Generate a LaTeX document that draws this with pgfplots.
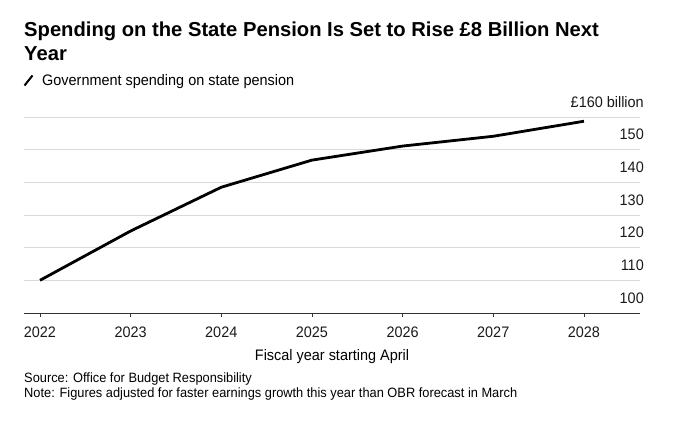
\documentclass[border=0pt]{standalone}
\usepackage{fontspec}
\setmainfont[FakeStretch=0.95]{Liberation Sans}
\newfontfamily\tfont{Liberation Sans}
\usepackage{pgfplots}
\pgfplotsset{compat=1.18}
\definecolor{gridgray}{HTML}{DADADA}
\definecolor{axgray}{HTML}{333333}
\newcommand{\bodyfont}{\fontsize{13.5}{16}\selectfont}
\newcommand{\bigfont}{\fontsize{15.2}{18}\selectfont}
\begin{document}
\begin{tikzpicture}
\path[use as bounding box] (0pt,0pt) rectangle (674pt,425pt);
\begin{axis}[
  at={(24pt,112pt)}, anchor=south west,
  scale only axis, width=616pt, height=196pt,
  xmin=2021.824, xmax=2028.618, ymin=100, ymax=160,
  axis x line*=bottom, axis y line*=right,
  y axis line style={draw=none},
  x axis line style={draw=axgray, line width=0.8pt},
  xtick={2022,...,2028},
  xticklabels={2022,2023,2024,2025,2026,2027,2028},
  ytick={100,110,...,160},
  yticklabels={100,110,120,130,140,150,{\pounds160 billion}},
  tick align=outside,
  x tick style={draw=axgray, line width=0.8pt},
  major tick length=4pt,
  y tick style={draw=none},
  ymajorgrids, grid style={draw=gridgray, line width=0.9pt},
  /pgf/number format/assume math mode=true,
  tick label style={font=\bigfont, text=black!90},
  xticklabel style={anchor=base, yshift=-20.5pt, inner sep=0pt},
  yticklabel style={anchor=south east, inner sep=0pt, yshift=9.5pt, xshift=0pt},
  xlabel={Fiscal year starting April},
  xlabel style={at={(axis description cs:0.5,0)}, anchor=base, yshift=-47.5pt, inner sep=0pt, font=\bigfont},
  clip=false,
]
\addplot[black, line width=2.8pt, line join=round, line cap=butt] coordinates {
 (2022,110.0) (2023,125.1) (2024,138.5) (2025,146.8) (2026,151.1) (2027,154.1) (2028,158.7)
};
\end{axis}
\node[anchor=base west, inner sep=0pt, font=\tfont\bfseries\fontsize{20.2}{24}\selectfont] at (24pt,388pt) {Spending on the State Pension Is Set to Rise \pounds8 Billion Next};
\node[anchor=base west, inner sep=0pt, font=\tfont\bfseries\fontsize{20.2}{24}\selectfont] at (24pt,364pt) {Year};
\draw[black, line width=2pt] (24.5pt,339.5pt) -- (32.5pt,349.5pt);
\node[anchor=base west, inner sep=0pt, font=\bigfont] at (42pt,339.5pt) {Government spending on state pension};
\node[anchor=base west, inner sep=0pt, font=\bodyfont] at (24pt,42pt) {Source: Office for Budget Responsibility};
\node[anchor=base west, inner sep=0pt, font=\bodyfont] at (24pt,27pt) {Note: Figures adjusted for faster earnings growth this year than OBR forecast in March};
\end{tikzpicture}
\end{document}
